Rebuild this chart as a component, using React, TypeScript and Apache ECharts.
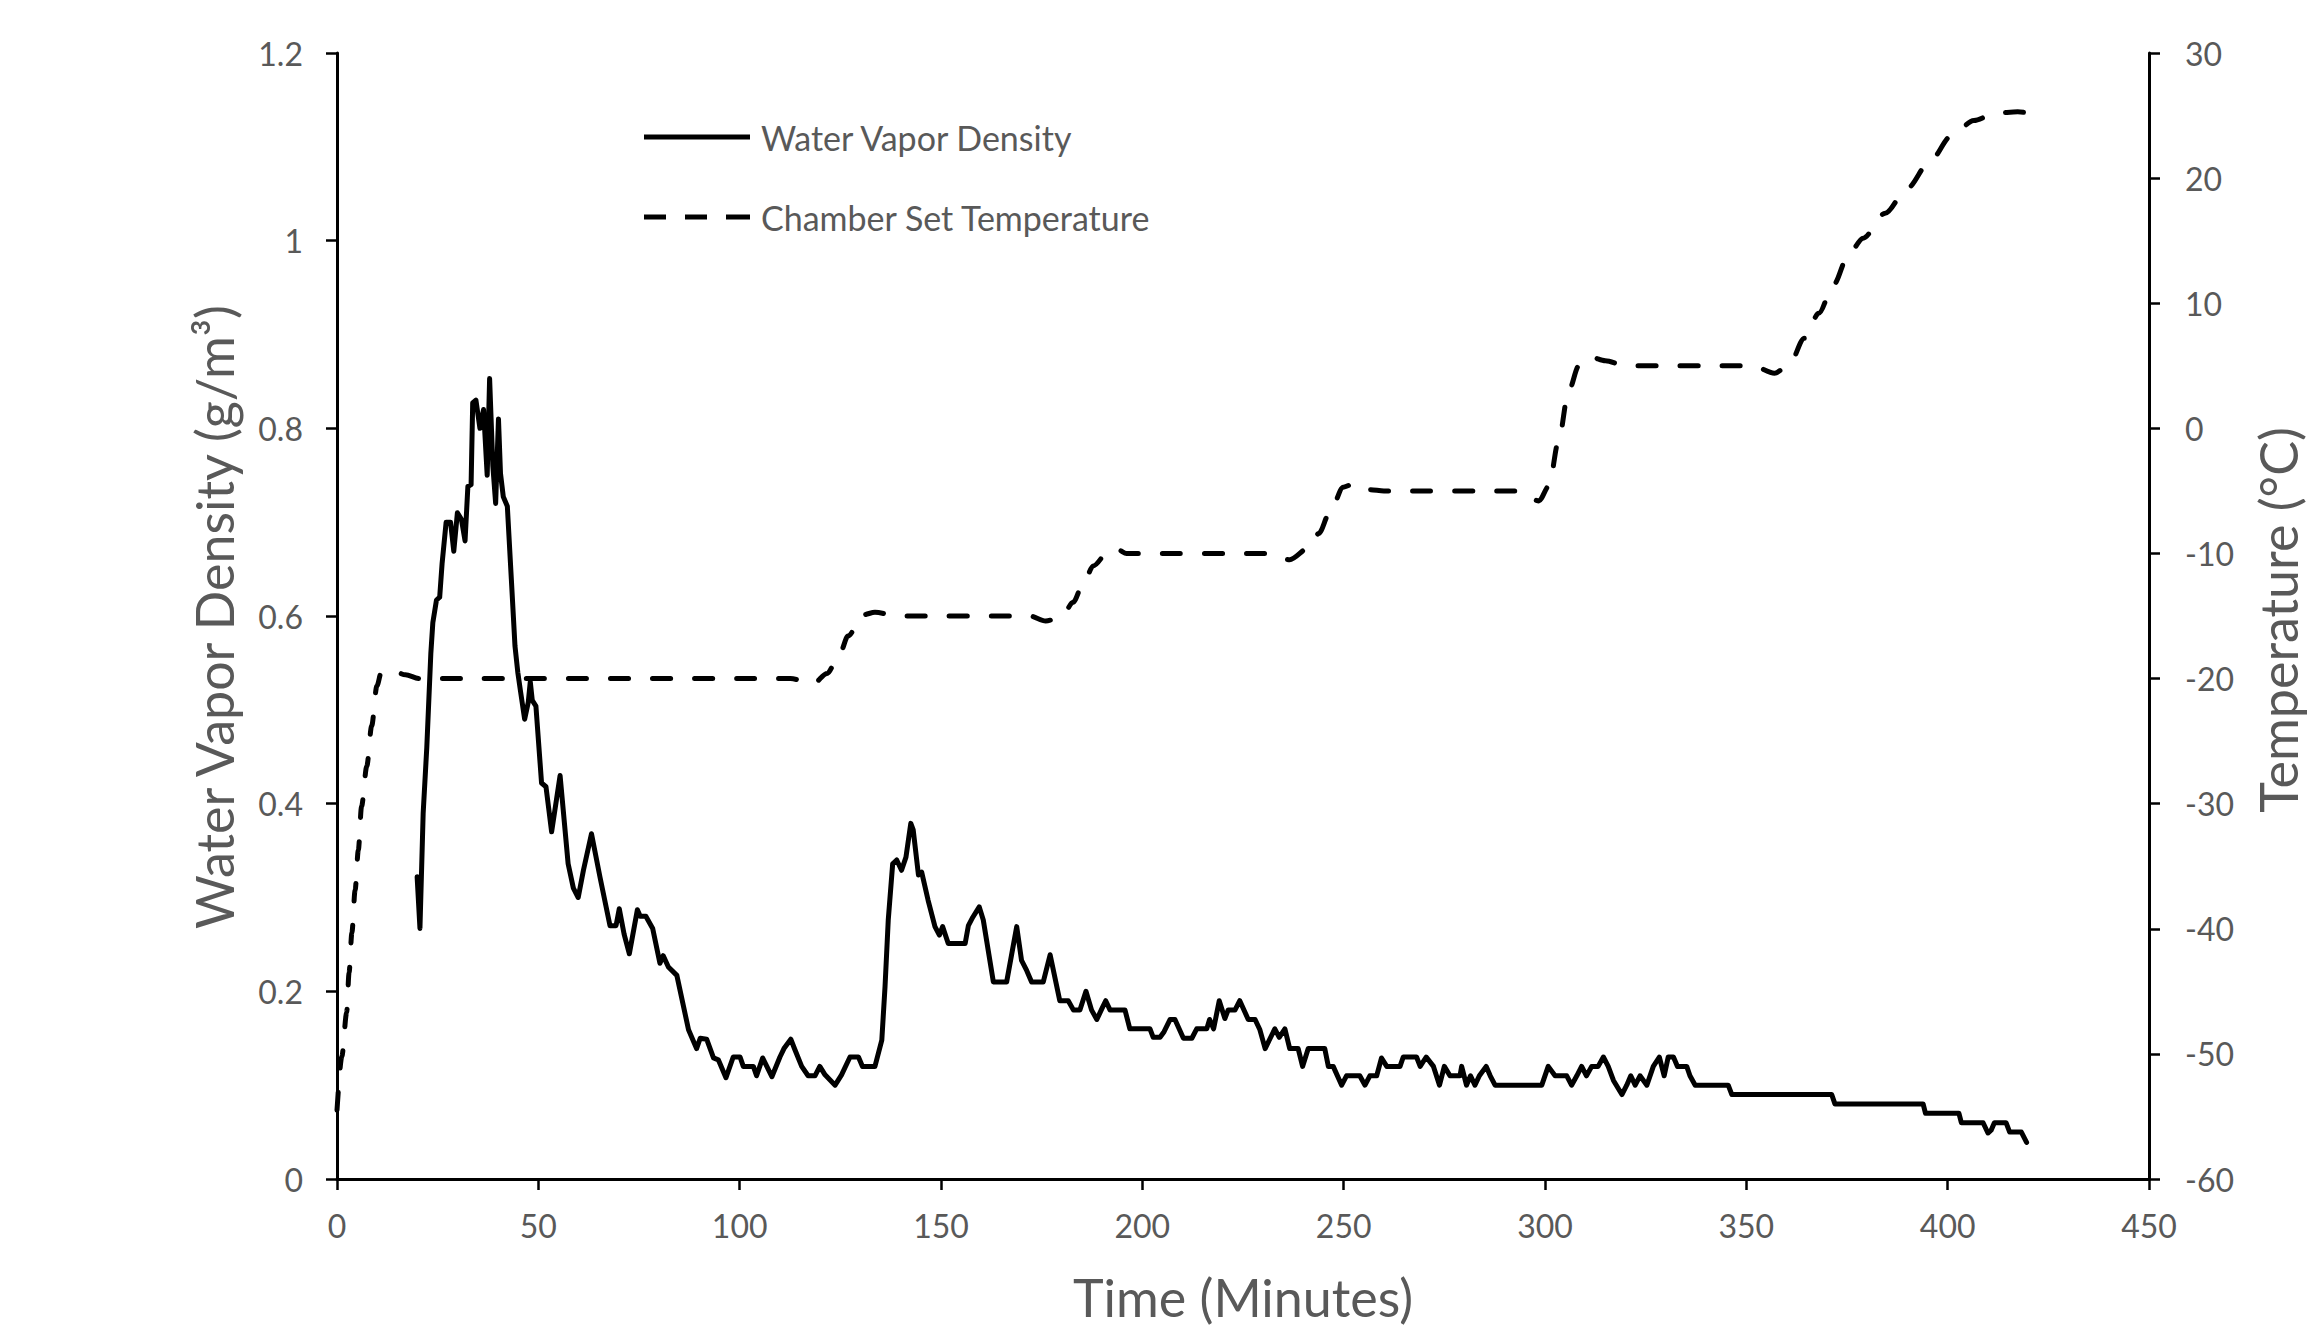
import React, { useEffect, useRef } from "react";
import * as echarts from "echarts";

// Water vapor density (g/m³) vs time (minutes)
const vaporTime: number[] = [
  19.9, 20.6, 21.4, 22.3, 23.3, 23.8, 24.7, 25.5, 26.1, 27.1, 28.2, 29.0, 29.9, 30.9, 31.8, 32.5, 33.3, 33.7, 34.5, 35.5,
  36.4, 37.3, 37.9, 38.7, 39.4, 40.1, 40.6, 41.3, 42.3, 43.3, 44.2, 44.9, 45.6, 46.6, 47.5, 48.0, 48.5, 49.4, 50.8, 51.9,
  53.3, 55.4, 57.4, 58.7, 59.9, 61.2, 63.2, 65.3, 67.8, 69.3, 70.1, 71.3, 72.6, 74.6, 75.3, 76.7, 78.4, 80.2, 81.0, 82.3,
  84.4, 87.3, 89.3, 90.2, 91.8, 93.5, 94.7, 96.6, 98.4, 100.1, 100.9, 103.4, 104.2, 105.7, 108.0, 110.0, 111.0, 112.7, 113.7, 115.4,
  117.0, 118.7, 119.9, 121.2, 123.7, 125.3, 127.4, 129.5, 130.5, 133.6, 135.3, 136.1, 136.9, 138.0, 139.0, 140.2, 141.3, 142.5, 143.1, 144.4,
  145.2, 146.8, 148.5, 149.6, 150.4, 151.8, 156.0, 156.8, 157.9, 159.5, 160.5, 163.0, 166.3, 168.8, 170.0, 171.3, 172.5, 175.4, 177.1, 179.5,
  181.6, 182.9, 184.5, 186.0, 187.4, 188.7, 189.9, 190.9, 192.0, 195.7, 196.9, 201.9, 202.7, 204.4, 205.4, 206.9, 208.1, 210.2, 212.3, 213.5,
  216.0, 216.7, 217.7, 219.1, 220.5, 221.3, 223.0, 224.2, 226.3, 228.0, 229.2, 230.5, 232.9, 234.0, 235.4, 236.6, 238.7, 239.8, 241.2, 245.3,
  246.2, 247.4, 249.5, 250.7, 254.0, 255.3, 256.5, 258.2, 259.4, 260.7, 264.0, 264.8, 268.1, 269.0, 270.5, 272.3, 273.8, 275.0, 276.4, 278.9,
  279.3, 280.5, 281.5, 282.6, 283.7, 285.4, 286.4, 287.6, 299.2, 300.8, 302.5, 305.4, 306.6, 307.9, 309.1, 310.3, 311.6, 313.2, 314.5, 315.7,
  317.0, 319.1, 320.3, 321.3, 322.4, 323.6, 325.3, 326.9, 328.4, 329.6, 330.6, 331.9, 332.9, 335.2, 336.0, 337.3, 345.5, 346.4, 371.2, 372.0,
  393.9, 394.5, 402.8, 403.4, 408.8, 410.0, 410.8, 411.6, 414.5, 415.4, 418.3, 419.6,
];
const vaporValue: number[] = [
  0.322, 0.267, 0.39, 0.46, 0.56, 0.593, 0.617, 0.62, 0.656, 0.70, 0.70, 0.669, 0.71, 0.703, 0.68, 0.738, 0.74, 0.827, 0.83, 0.80,
  0.82, 0.75, 0.853, 0.76, 0.72, 0.81, 0.752, 0.727, 0.717, 0.639, 0.568, 0.54, 0.519, 0.49, 0.508, 0.53, 0.51, 0.504, 0.422, 0.418,
  0.37, 0.43, 0.336, 0.31, 0.30, 0.329, 0.368, 0.322, 0.27, 0.27, 0.288, 0.261, 0.24, 0.287, 0.28, 0.28, 0.267, 0.23, 0.238, 0.226,
  0.217, 0.159, 0.139, 0.15, 0.149, 0.129, 0.127, 0.108, 0.13, 0.13, 0.12, 0.12, 0.11, 0.129, 0.109, 0.13, 0.139, 0.149, 0.138, 0.12,
  0.11, 0.11, 0.12, 0.111, 0.10, 0.111, 0.13, 0.13, 0.12, 0.12, 0.148, 0.205, 0.276, 0.336, 0.34, 0.329, 0.343, 0.379, 0.372, 0.324,
  0.327, 0.297, 0.269, 0.26, 0.269, 0.251, 0.251, 0.27, 0.279, 0.29, 0.276, 0.21, 0.21, 0.269, 0.233, 0.222, 0.21, 0.21, 0.239, 0.19,
  0.19, 0.18, 0.18, 0.20, 0.18, 0.17, 0.181, 0.19, 0.18, 0.18, 0.16, 0.16, 0.151, 0.151, 0.157, 0.17, 0.17, 0.15, 0.15, 0.16,
  0.16, 0.17, 0.16, 0.19, 0.171, 0.18, 0.18, 0.19, 0.17, 0.17, 0.159, 0.139, 0.16, 0.151, 0.16, 0.139, 0.139, 0.12, 0.139, 0.139,
  0.12, 0.12, 0.10, 0.11, 0.11, 0.10, 0.11, 0.11, 0.129, 0.12, 0.12, 0.13, 0.13, 0.12, 0.13, 0.12, 0.10, 0.12, 0.11, 0.11,
  0.12, 0.10, 0.11, 0.10, 0.11, 0.12, 0.11, 0.10, 0.10, 0.12, 0.11, 0.11, 0.10, 0.11, 0.12, 0.11, 0.12, 0.12, 0.13, 0.12,
  0.105, 0.09, 0.10, 0.11, 0.10, 0.11, 0.10, 0.12, 0.13, 0.11, 0.13, 0.13, 0.12, 0.12, 0.11, 0.10, 0.10, 0.09, 0.09, 0.08,
  0.08, 0.07, 0.07, 0.06, 0.06, 0.049, 0.052, 0.06, 0.06, 0.05, 0.05, 0.039,
];

// Chamber set temperature (°C) vs time (minutes)
const tempTime: number[] = [
  0, 1.2, 2.4, 3.0, 3.7, 4.5, 5.3, 6.1, 7.4, 8.6, 9.9, 11.0, 14.0, 17.0, 20.4, 112.6, 118.3, 121.7, 125.0, 126.9,
  130.7, 133.6, 139.0, 172.0, 176.0, 180.0, 182.8, 185.6, 187.8, 191.7, 193.9, 196.1, 231.6, 236.6, 241.6, 243.8, 246.6, 249.9, 252.8, 256.5,
  260.0, 293.0, 298.5, 301.0, 303.3, 305.9, 308.4, 311.3, 315.0, 320.0, 351.6, 357.0, 360.7, 364.4, 368.0, 371.7, 375.4, 379.0, 384.5, 390.0,
  395.5, 401.0, 406.5, 412.0, 417.4, 422.9,
];
const tempValue: number[] = [
  -54.5, -50.2, -46.7, -43.5, -40.3, -36.9, -33.7, -30.2, -27.0, -23.8, -20.6, -19.5, -19.4, -19.7, -20.0, -20.0, -20.4, -19.6, -17.9, -16.6,
  -14.9, -14.7, -15.0, -15.0, -15.4, -15.1, -13.9, -12.2, -11.0, -9.8, -9.7, -10.0, -10.0, -10.5, -9.5, -8.4, -6.7, -4.7, -4.4, -4.9,
  -5.0, -5.0, -5.8, -4.6, -1.1, 3.0, 5.0, 5.7, 5.4, 5.0, 5.0, 4.4, 5.1, 7.2, 9.2, 11.5, 13.9, 15.2, 17.2, 19.2,
  21.3, 23.4, 24.6, 25.2, 25.3, 25.0,
];

const seriesNames: string[] = ["Water Vapor Density", "Chamber Set Temperature"];
const xTitle = "Time (Minutes)";
const yLeftTitle = "Water Vapor Density (g/m³)";
const yRightTitle = "Temperature (°C)";

const FONT = "Lato, 'Open Sans', sans-serif";
const GRAY = "#595959";

export default function App() {
  const ref = useRef<HTMLDivElement>(null);
  useEffect(() => {
    if (!ref.current) return;
    const chart = echarts.init(ref.current, undefined, { renderer: "svg" });
    const vapor = vaporTime.map((t, i) => [t, vaporValue[i]]);
    const temp = tempTime.map((t, i) => [t, tempValue[i]]);
    const axisLine = { show: true, lineStyle: { color: "#000", width: 3 } };
    const axisTick = { show: true, inside: false, length: 11, lineStyle: { color: "#000", width: 2.5 } };
    const label = (margin: number) => ({ fontSize: 32, color: GRAY, fontFamily: FONT, margin });
    chart.setOption({
      animation: false,
      backgroundColor: "#fff",
      grid: { left: 337, right: 161, top: 53, bottom: 161, containLabel: false },
      xAxis: {
        type: "value", min: 0, max: 450, interval: 50,
        axisLine, axisTick, splitLine: { show: false }, axisLabel: label(30),
      },
      yAxis: [
        {
          type: "value", position: "left", min: 0, max: 1.2, interval: 0.2,
          axisLine, axisTick, splitLine: { show: false }, axisLabel: label(34),
        },
        {
          type: "value", position: "right", min: -60, max: 30, interval: 10,
          axisLine, axisTick, splitLine: { show: false }, axisLabel: label(36),
        },
      ],
      legend: {
        orient: "vertical", left: 644, top: 120, padding: 0,
        itemWidth: 106, itemHeight: 5, itemGap: 46,
        textStyle: { fontSize: 34, color: GRAY, fontFamily: FONT, padding: [0, 0, 0, 6] },
        data: [
          { name: seriesNames[0], icon: "rect" },
          { name: seriesNames[1], icon: "path://M0,0H22V5H0Z M41,0H63V5H41Z M82,0H106V5H82Z" },
        ],
      },
      series: [
        {
          name: seriesNames[0], type: "line", yAxisIndex: 0, data: vapor,
          symbol: "none", showSymbol: false, z: 3,
          itemStyle: { color: "#000" },
          lineStyle: { color: "#000", width: 5, join: "round", cap: "round" },
        },
        {
          name: seriesNames[1], type: "line", yAxisIndex: 1, data: temp,
          symbol: "none", showSymbol: false, smooth: 0.3, smoothMonotone: "x", z: 2,
          itemStyle: { color: "#000" },
          lineStyle: { color: "#000", width: 5, type: [18, 24], cap: "round", join: "round" },
        },
      ],
      graphic: [
        {
          type: "text", x: 1243, y: 1297,
          style: { text: xTitle, fontSize: 52, fontFamily: FONT, fill: GRAY, textAlign: "center", textVerticalAlign: "middle", align: "center", verticalAlign: "middle" },
        },
        {
          type: "text", x: 214, y: 617, rotation: Math.PI / 2,
          style: { text: yLeftTitle, fontSize: 52, fontFamily: FONT, fill: GRAY, textAlign: "center", textVerticalAlign: "middle", align: "center", verticalAlign: "middle" },
        },
        {
          type: "text", x: 2278, y: 620, rotation: Math.PI / 2,
          style: { text: yRightTitle, fontSize: 52, fontFamily: FONT, fill: GRAY, textAlign: "center", textVerticalAlign: "middle", align: "center", verticalAlign: "middle" },
        },
      ],
    });
    return () => chart.dispose();
  }, []);
  return (
    <div
      ref={ref}
      style={{ position: "fixed", left: 0, top: 0, width: "2310px", height: "1340px", background: "#fff" }}
    />
  );
}
